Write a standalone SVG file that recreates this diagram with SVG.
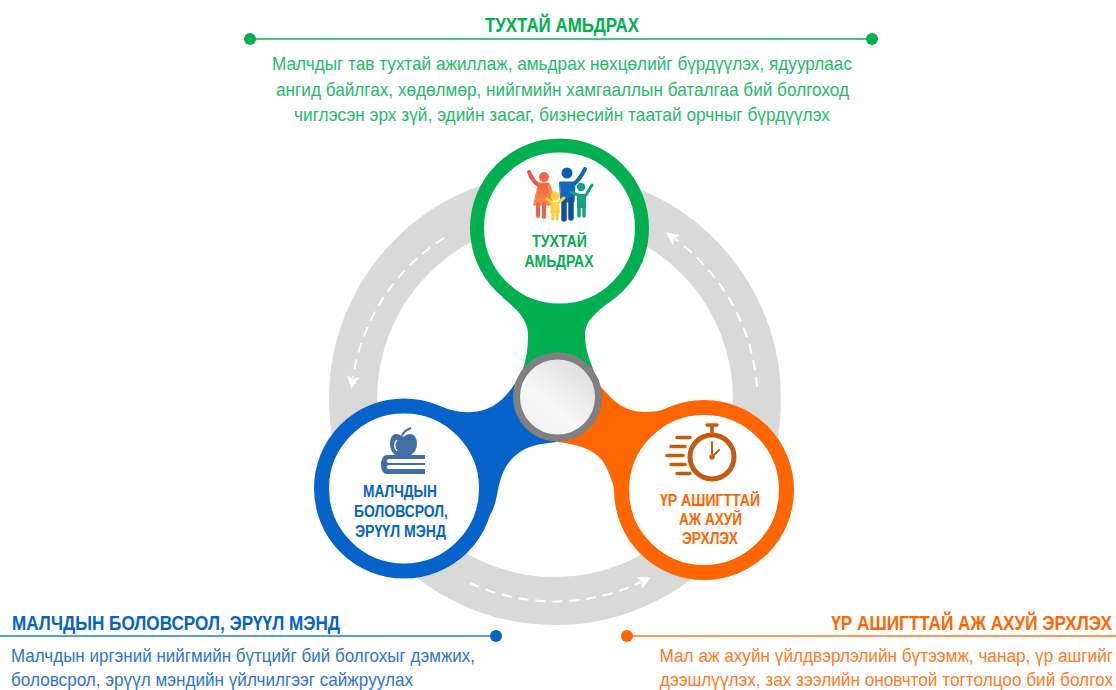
<svg xmlns="http://www.w3.org/2000/svg" width="1116" height="690" viewBox="0 0 1116 690">
<style>
text{font-family:"Liberation Sans",Arial,sans-serif;text-anchor:middle}
.e{text-anchor:end}
.h{font-size:19.500px;font-weight:700}
.d{font-size:19px}
.n{font-size:16px;font-weight:700}
.g{fill:#00B050}.b{fill:#0563C9}.o{fill:#FF6600}
.dg{fill:#1FBB68}.db{fill:#2F74CF}.do{fill:#FF7A26}
.dash{fill:none;stroke:#fff;stroke-width:2;stroke-dasharray:10 7;marker-end:url(#ah)}
.ico{fill:none;stroke-linecap:round;stroke-linejoin:round}
</style>
<defs>
<marker id="ah" markerUnits="userSpaceOnUse" markerWidth="16" markerHeight="16" refX="2" refY="8" orient="auto">
<path d="M0 1.500L13 8L0 14.500L3 8Z" fill="#fff"/>
</marker>
<linearGradient id="hub" x1="0.85" y1="0.1" x2="0.2" y2="0.9">
<stop offset="0" stop-color="#DCDCDC"/><stop offset="0.65" stop-color="#F8F8F8"/><stop offset="1" stop-color="#F0F0F0"/>
</linearGradient>
<linearGradient id="red" x1="0" y1="0" x2="0" y2="1"><stop offset="0" stop-color="#F0604A"/><stop offset="1" stop-color="#FF8C42"/></linearGradient>
</defs>

<circle id="ring" cx="555" cy="399" r="202" fill="none" stroke="#D9D9D9" stroke-width="48"/>

<g id="connectors">
<path class="dash" d="M757 387A202 202 0 0 0 675 239"/>
<path class="dash" d="M444 238A200 200 0 0 0 353 378"/>
<path class="dash" d="M470 583A202 202 0 0 0 641 582"/>
</g>

<g id="node-green">
<path class="g" d="M502 297C518 310 528 320 528 335C528 350 526 360 522 372L594 372C590 360 585 350 585 335C585 320 597 312 613 299Z"/>
<circle cx="559.500" cy="228" r="82.500" fill="#fff" stroke="#00B050" stroke-width="14"/>
<g id="icon-family" class="ico">
<path d="M529 172C532 180 535 184 541 186" stroke="#EE5650" stroke-width="4"/>
<circle cx="544" cy="177" r="5" fill="#F4674A"/>
<path d="M539 183H549L553 205H534Z" fill="url(#red)" stroke="#F8794A" stroke-width="1"/>
<path d="M538 204V216M544 204V217" stroke="#F2604A" stroke-width="4"/>
<path d="M549 186L553 197" stroke="#FF8C42" stroke-width="3"/>
<circle cx="567" cy="173" r="5.500" fill="#0F5EAE"/>
<path d="M574 184C579 180 582 175 585 169" stroke="#1466B8" stroke-width="4"/>
<path d="M560 182H575L574 202H561Z" fill="#1466B8" stroke="#1466B8" stroke-width="1"/>
<path d="M564 200V219M571 200V218" stroke="#0D50A0" stroke-width="5.500"/>
<circle cx="555" cy="196" r="4.500" fill="#FFD23F"/>
<path d="M547 199L553 203M564 198L558 203" stroke="#FFD23F" stroke-width="3"/>
<path d="M551 202H559L560 213H550Z" fill="#FFD23F"/>
<path d="M553 212V219M557 212V219" stroke="#FFC93C" stroke-width="3"/>
<circle cx="581" cy="187" r="4.200" fill="#0FA37F"/>
<path d="M571 192L578 195M586 195L592 185" stroke="#0FA37F" stroke-width="3"/>
<path d="M577 194H586V208H577Z" fill="#0FA37F"/>
<path d="M579 207V216M584 207V216" stroke="#0FA37F" stroke-width="3.500"/>
</g>
<text class="n g" x="559.500" y="247" textLength="55" lengthAdjust="spacingAndGlyphs">ТУХТАЙ</text>
<text class="n g" x="559" y="266.500" textLength="69" lengthAdjust="spacingAndGlyphs">АМЬДРАХ</text>
</g>

<g id="node-orange">
<path class="o" d="M598 383C610 398 622 412 645 412C652 412 660 411 668 408L620 512C616 495 612 475 602 460C592 448 575 444 557 442Z"/>
<circle cx="704" cy="490" r="82.500" fill="#fff" stroke="#FF6600" stroke-width="15"/>
<g id="icon-stopwatch" class="ico" stroke="#C55A11">
<circle cx="712" cy="457" r="22" stroke-width="5"/>
<path d="M712 442V457L719 450" stroke-width="2"/>
<circle cx="712" cy="457" r="2.500" fill="#C55A11" stroke-width="0.500"/>
<path d="M707 425H717M712 425V432" stroke-width="3.500"/>
<path d="M677 437.500H690M671 446.500H685M667 455.500H683M671 464.500H685M677 473.500H690" stroke-width="3.500"/>
</g>
<text class="n o" x="710" y="505.500" textLength="100" lengthAdjust="spacingAndGlyphs">ҮР АШИГТТАЙ</text>
<text class="n o" x="710.500" y="524.500" textLength="63" lengthAdjust="spacingAndGlyphs">АЖ АХУЙ</text>
<text class="n o" x="710" y="543.500" textLength="56" lengthAdjust="spacingAndGlyphs">ЭРХЛЭХ</text>
</g>

<g id="node-blue">
<path class="b" d="M436 405C450 410 460 413 472 412C490 411 503 402 516 382L557 442C540 444 528 445 516 455C503 466 500 480 497 495C495 505 493 510 490 515Z"/>
<circle cx="404" cy="488.500" r="82.500" fill="#fff" stroke="#0563C9" stroke-width="15"/>
<g id="icon-books">
<path d="M403 437C396 431 390 434 390 444C390 452 396 458 403 456C410 458 417 452 417 444C417 434 410 431 403 437Z" fill="#416DA6"/>
<path d="M397 440C394 443 394 448 397 451" fill="none" stroke="#fff" stroke-width="1.500"/>
<path d="M402 436C403 432 406 430 411 428" fill="none" stroke="#416DA6" stroke-width="2"/>
<path d="M387 455H425V459H389C386 459 386 463 389 463H425V465H389C386 465 386 469 389 469H425V474H387C379 474 379 455 387 455Z" fill="#416DA6"/>
</g>
<text class="n b" x="400" y="496.500" textLength="74" lengthAdjust="spacingAndGlyphs">МАЛЧДЫН</text>
<text class="n b" x="401" y="516.500" textLength="94" lengthAdjust="spacingAndGlyphs">БОЛОВСРОЛ,</text>
<text class="n b" x="400.500" y="536.500" textLength="91" lengthAdjust="spacingAndGlyphs">ЭРҮҮЛ МЭНД</text>
</g>

<circle id="hub-circle" cx="557.500" cy="397" r="41" fill="url(#hub)" stroke="#808080" stroke-width="7"/>

<g id="callout-green">
<path d="M250 39H872" stroke="#3CCB7F" stroke-width="2"/>
<circle cx="250" cy="39" r="6" fill="#00B050"/><circle cx="872" cy="39" r="6" fill="#00B050"/>
<text class="h g" x="562" y="31.500" textLength="154" lengthAdjust="spacingAndGlyphs">ТУХТАЙ АМЬДРАХ</text>
<text class="d dg" x="562" y="70" textLength="580" lengthAdjust="spacingAndGlyphs">Малчдыг тав тухтай ажиллаж, амьдрах нөхцөлийг бүрдүүлэх, ядуурлаас</text>
<text class="d dg" x="562.500" y="96" textLength="573" lengthAdjust="spacingAndGlyphs">ангид байлгах, хөдөлмөр, нийгмийн хамгааллын баталгаа бий болгоход</text>
<text class="d dg" x="562" y="121" textLength="536" lengthAdjust="spacingAndGlyphs">чиглэсэн эрх зүй, эдийн засаг, бизнесийн таатай орчныг бүрдүүлэх</text>
</g>

<g id="callout-blue">
<path d="M0 636H496" stroke="#5B9BE0" stroke-width="2"/>
<circle cx="496" cy="636" r="6" fill="#0563C9"/>
<text class="h b" x="176" y="629.500" textLength="328" lengthAdjust="spacingAndGlyphs">МАЛЧДЫН БОЛОВСРОЛ, ЭРҮҮЛ МЭНД</text>
<text class="d db" x="243" y="662" textLength="464" lengthAdjust="spacingAndGlyphs">Малчдын иргэний нийгмийн бүтцийг бий болгохыг дэмжих,</text>
<text class="d db" x="212" y="686" textLength="402" lengthAdjust="spacingAndGlyphs">боловсрол, эрүүл мэндийн үйлчилгээг сайжруулах</text>
</g>

<g id="callout-orange">
<path d="M627 636H1116" stroke="#FF9A5C" stroke-width="2"/>
<circle cx="627" cy="636" r="6" fill="#FF6600"/>
<text class="h o e" transform="translate(1112 629.500) scale(0.880 1)">ҮР АШИГТТАЙ АЖ АХУЙ ЭРХЛЭХ</text>
<text class="d do e" transform="translate(1113 662) scale(0.904 1)">Мал аж ахуйн үйлдвэрлэлийн бүтээмж, чанар, үр ашгийг</text>
<text class="d do e" transform="translate(1113 686) scale(0.906 1)">дээшлүүлэх, зах зээлийн оновчтой тогтолцоо бий болгох</text>
</g>
</svg>
